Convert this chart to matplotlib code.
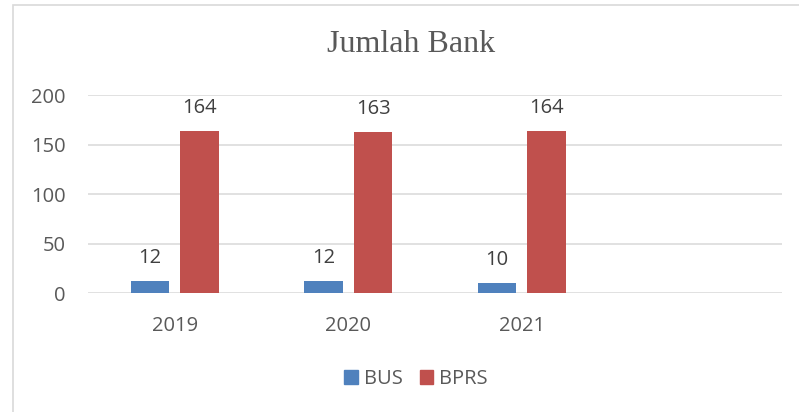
import matplotlib
matplotlib.use("Agg")
import matplotlib.pyplot as plt
from matplotlib.patches import Rectangle, Patch
import numpy as np

categories = ["2019", "2020", "2021"]
bus = [12, 12, 10]
bprs = [164, 163, 164]
series_names = ["BUS", "BPRS"]
title = "Jumlah Bank"

c_bus = "#4F81BD"
c_bprs = "#C0504D"
txt = "#595959"
lab = "#404040"
grid_c = "#D9D9D9"
sans = ["Open Sans", "DejaVu Sans"]

fig = plt.figure(figsize=(7.99, 4.12), dpi=100)
ax = fig.add_axes([88/799, 1-293.3/412, (782-88)/799, (293.3-95.3)/412])

x = np.arange(len(categories))
w = 0.223
off = 0.143
b1 = ax.bar(x - off, bus, w, color=c_bus, zorder=3)
b2 = ax.bar(x + off, bprs, w, color=c_bprs, zorder=3)

for bars, vals in ((b1, bus), (b2, bprs)):
    for r, v in zip(bars, vals):
        ax.annotate(str(v), (r.get_x() + r.get_width()/2, v),
                    xytext=(0, 13), textcoords="offset points",
                    ha="center", va="baseline", fontsize=14.5,
                    color=lab, family=sans)

ax.set_xlim(-0.5, 3.5)
ax.set_ylim(0, 200)
ax.set_yticks([0, 50, 100, 150, 200])
ax.set_xticks(x)
ax.set_xticklabels(categories)
ax.yaxis.grid(True, color=grid_c, linewidth=1.1, zorder=0)
ax.set_axisbelow(True)
for s in ax.spines.values():
    s.set_visible(False)
ax.tick_params(axis="both", length=0, labelsize=14.5, labelcolor=txt)
ax.tick_params(axis="y", pad=16)
ax.tick_params(axis="x", pad=16.5)
for t in ax.get_xticklabels() + ax.get_yticklabels():
    t.set_family(sans)

fig.text(411.5/799, 1-44/412, title, ha="center", va="center",
         fontsize=23, color=txt, family=["Liberation Serif", "DejaVu Serif"])

handles = [Patch(color=c_bus), Patch(color=c_bprs)]
leg = fig.legend(handles, series_names, loc="center", bbox_to_anchor=(416/799, 1-379/412),
                 ncol=2, frameon=False, handlelength=0.67, handleheight=0.67,
                 handletextpad=0.3, columnspacing=0.85,
                 prop={"family": sans, "size": 14.5})
for t in leg.get_texts():
    t.set_color(txt)

fig.patches.append(Rectangle((13/799, -0.05), 1.1, 1.05 - 5/412, transform=fig.transFigure,
                             fill=False, edgecolor=grid_c, linewidth=1.2, clip_on=False))

fig.savefig("out.png", dpi=100)
